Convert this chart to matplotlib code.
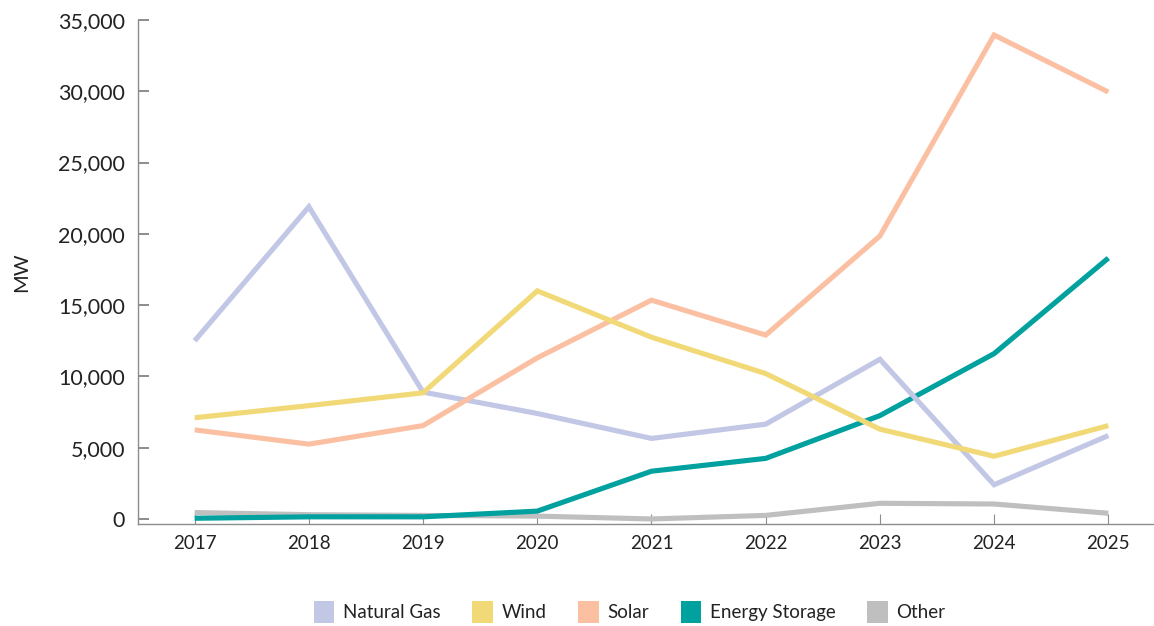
import matplotlib
matplotlib.use("Agg")
import matplotlib.pyplot as plt
from matplotlib.patches import Patch
from matplotlib.ticker import FuncFormatter

years = [2017, 2018, 2019, 2020, 2021, 2022, 2023, 2024, 2025]
natural_gas = [12500, 21900, 8900, 7400, 5650, 6650, 11200, 2400, 5850]
wind = [7100, 7950, 8850, 16000, 12750, 10200, 6300, 4400, 6550]
solar = [6250, 5250, 6550, 11300, 15350, 12900, 19850, 33950, 29950]
storage = [50, 150, 150, 550, 3350, 4250, 7250, 11600, 18300]
other = [450, 300, 250, 200, 0, 250, 1100, 1050, 400]

names = ["Natural Gas", "Wind", "Solar", "Energy Storage", "Other"]
colors = {"Natural Gas": "#c1c7e5", "Wind": "#f2d977", "Solar": "#fbc0a2",
          "Energy Storage": "#00a19e", "Other": "#bfbfbf"}
series = {"Natural Gas": natural_gas, "Wind": wind, "Solar": solar,
          "Energy Storage": storage, "Other": other}

plt.rcParams["font.family"] = ["Lato", "DejaVu Sans"]

fig = plt.figure(figsize=(11.54, 6.26), dpi=100)
ax = fig.add_axes([0.1192, 0.163, 0.8808, 0.805])

# draw order chosen so crossings overlap like the original
for n in ["Other", "Energy Storage", "Natural Gas", "Solar", "Wind"]:
    ax.plot(years, series[n], color=colors[n], lw=3.7, solid_capstyle="butt",
            solid_joinstyle="miter")

ax.set_xlim(2016.5, 2025.4)
ax.set_ylim(-350, 35000)
ax.set_xticks(years)
ax.set_yticks(range(0, 35001, 5000))
ax.yaxis.set_major_formatter(FuncFormatter(lambda v, _p: f"{int(v):,}"))

for s in ["top", "right"]:
    ax.spines[s].set_visible(False)
for s in ["left", "bottom"]:
    ax.spines[s].set_color("#8c8c8c")
    ax.spines[s].set_linewidth(1.0)

ax.tick_params(axis="y", direction="in", length=8, width=1.4, color="#8c8c8c",
               labelsize=15.5, pad=9, labelcolor="#222222")
ax.tick_params(axis="x", direction="in", length=7, width=0.8, color="#8c8c8c",
               labelsize=13.5, pad=8, labelcolor="#222222")
ax.set_ylabel("MW", fontsize=14.5, color="#222222", labelpad=20)

handles = [Patch(facecolor=colors[n], edgecolor="none", label=n) for n in names]
fig.legend(handles=handles, loc="center", bbox_to_anchor=(629.5 / 1154, 1 - 612 / 626),
           ncol=5, frameon=False, fontsize=13.5, handlelength=1.1, handleheight=1.5,
           handletextpad=0.45, columnspacing=1.7, labelcolor="#222222")

fig.savefig("out.png", dpi=100)
